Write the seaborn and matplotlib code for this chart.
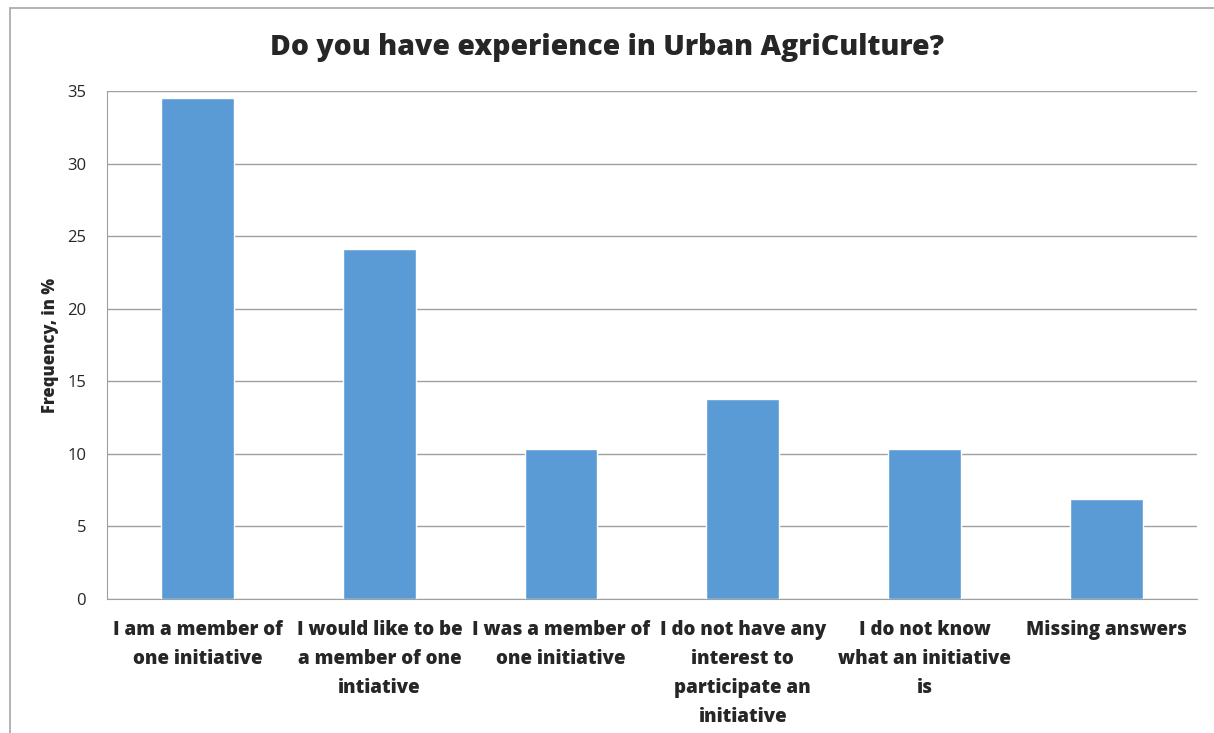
import matplotlib
matplotlib.use('Agg')
import matplotlib.pyplot as plt
import seaborn as sns
import pandas as pd
from matplotlib.patches import Rectangle

# Data
answers = [
    'I am a member of\none initiative',
    'I would like to be\na member of one\nintiative',
    'I was a member of\none initiative',
    'I do not have any\ninterest to\nparticipate an\ninitiative',
    'I do not know\nwhat an initiative\nis',
    'Missing answers',
]
frequency = [34.5, 24.1, 10.3, 13.8, 10.3, 6.9]
y_ticks = [0, 5, 10, 15, 20, 25, 30, 35]

df = pd.DataFrame({'answer': answers, 'freq': frequency})

sns.set_style('white')
plt.rcParams['font.family'] = ['Open Sans', 'DejaVu Sans']

fig = plt.figure(figsize=(12.14, 7.33), dpi=100)
ax = fig.add_axes([0.0881, 0.1828, 0.8979, 0.6931])

# outer chart frame (cropped at right and bottom)
fig.patches.append(Rectangle((10 / 1214, -0.05), 1.2, 1 - 8 / 733 + 0.05,
                             transform=fig.transFigure, fill=False,
                             edgecolor='#A6A6A6', linewidth=1.2))

sns.barplot(data=df, x='answer', y='freq', color='#5B9BD5', width=0.4,
            saturation=1, ax=ax, zorder=3)

ax.set_ylim(0, 35)
ax.set_yticks(y_ticks)
ax.set_xlim(-0.5, 5.5)
ax.yaxis.grid(True, color='#A0A0A0', linewidth=1)
ax.set_axisbelow(True)
for s in ['top', 'right']:
    ax.spines[s].set_visible(False)
ax.spines['left'].set_color('#A0A0A0')
ax.spines['bottom'].set_color('#A0A0A0')
ax.tick_params(axis='both', length=0)
ax.tick_params(axis='y', labelsize=12, pad=15)
ax.tick_params(axis='x', pad=15)
for lbl in ax.get_xticklabels():
    lbl.set_fontsize(13.5)
    lbl.set_fontweight('heavy')
    lbl.set_verticalalignment('top')
    lbl.set_linespacing(1.6)

ax.set_xlabel('')
ax.set_ylabel('Frequency, in %', fontsize=12, fontweight='heavy', labelpad=6)
fig.text(0.5, 0.935, 'Do you have experience in Urban AgriCulture?',
         ha='center', va='center', fontsize=20.4, fontweight='heavy')

fig.savefig('out.png', dpi=100)
